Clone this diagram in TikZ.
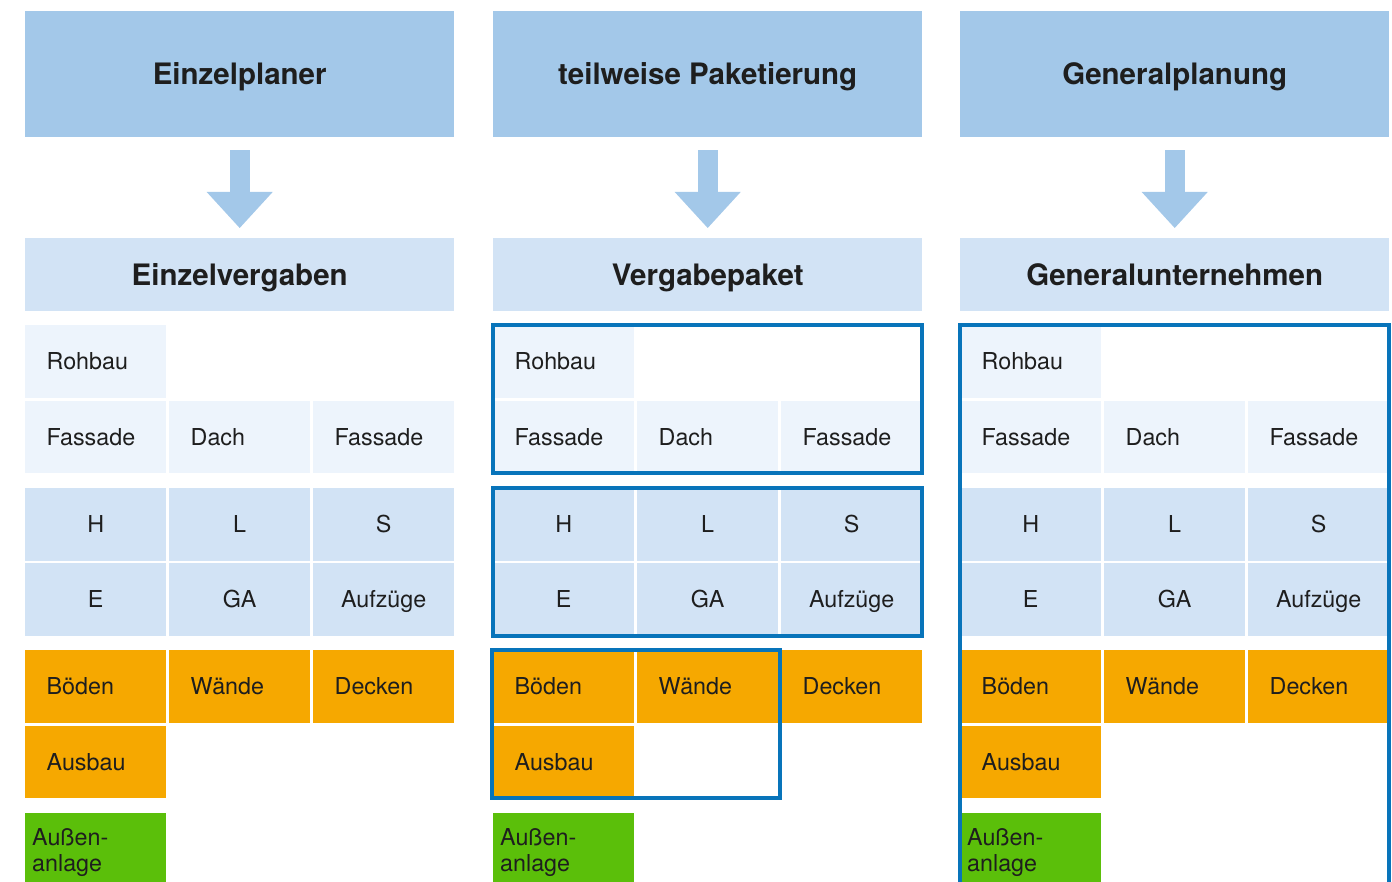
\documentclass[tikz,border=0pt]{standalone}
\usepackage{fontspec}
\setmainfont{TeX Gyre Heros}
\usetikzlibrary{arrows.meta,fit}
\definecolor{headblue}{RGB}{163,200,233}
\definecolor{subblue}{RGB}{210,227,245}
\definecolor{paleblue}{RGB}{237,244,252}
\definecolor{ausbau}{RGB}{246,168,0}
\definecolor{aussen}{RGB}{91,191,10}
\definecolor{packblue}{RGB}{8,116,186}
\definecolor{ink}{RGB}{30,30,30}

\begin{document}
\begin{tikzpicture}[x=1pt, y=-1pt,
  head/.style={anchor=north west, fill=headblue, minimum width=429pt, minimum height=126pt, inner sep=0pt, font=\fontsize{29.5}{33}\selectfont\bfseries, text=ink, text height=21.2pt, text depth=0pt},
  sub/.style={head, fill=subblue, minimum height=73pt},
  cell/.style={anchor=north west, minimum width=141pt, minimum height=72.5pt, inner xsep=21.5pt, inner ysep=0pt, text width=98pt, align=left, font=\fontsize{23.3}{26}\selectfont, text=ink, text height=16.8pt, text depth=0pt},
  mid/.style={cell, align=center},
  pale/.style={fill=paleblue},
  tech/.style={fill=subblue},
  fit-out/.style={fill=ausbau},
  outdoor/.style={cell, fill=aussen, inner xsep=7pt, text width=127pt, minimum height=73pt, text depth=26pt},
  arr/.style={headblue, line width=20pt, shorten <=13pt, shorten >=10pt, -{Triangle[length=36pt, width=66pt, line width=0pt]}},
  pack/.style={draw=packblue, line width=4pt, inner sep=0pt}]
\useasboundingbox (0,0) rectangle (1392,882);
\clip (0,0) rectangle (1392,882);
% three columns: planning form -> award form -> trades
\foreach \c/\x/\ta/\tb in {1/25/Einzelplaner/Einzelvergaben, 2/493/teilweise Paketierung/Vergabepaket, 3/960/Generalplanung/Generalunternehmen}{
  \node[head] (h\c) at (\x,11) {\ta};
  \node[sub] (s\c) at (\x,238) {\tb};
  \draw[arr] (h\c) -- (s\c);
  \node[cell, pale] (c\c-1-1) at (\x,325) {Rohbau};
  \node[cell, pale] (c\c-2-1) at (\x,400.5) {Fassade};
  \node[cell, pale] (c\c-2-2) at (\x+144,400.5) {Dach};
  \node[cell, pale] (c\c-2-3) at (\x+288,400.5) {Fassade};
  \node[mid, tech] (c\c-3-1) at (\x,488) {H};
  \node[mid, tech] (c\c-3-2) at (\x+144,488) {L};
  \node[mid, tech] (c\c-3-3) at (\x+288,488) {S};
  \node[mid, tech] (c\c-4-1) at (\x,563) {E};
  \node[mid, tech] (c\c-4-2) at (\x+144,563) {GA};
  \node[mid, tech] (c\c-4-3) at (\x+288,563) {Aufzüge};
  \node[cell, fit-out] (c\c-5-1) at (\x,650) {Böden};
  \node[cell, fit-out] (c\c-5-2) at (\x+144,650) {Wände};
  \node[cell, fit-out] (c\c-5-3) at (\x+288,650) {Decken};
  \node[cell, fit-out] (c\c-6-1) at (\x,725.5) {Ausbau};
  \node[outdoor] (c\c-7-1) at (\x,813) {Außen-\\anlage};
}
% packages
\node[pack, fit=(c2-1-1)(c2-2-3)] (pk1) {};
\node[pack, fit=(c2-3-1)(c2-4-3)] (pk2) {};
\node[pack, fit=(c2-5-1)(c2-5-2)(c2-6-1), inner xsep=1.5pt] (pk3) {};
\node[pack, fit=(c3-1-1)(c3-2-3)(c3-7-1)] (pk4) {};
\end{tikzpicture}
\end{document}
